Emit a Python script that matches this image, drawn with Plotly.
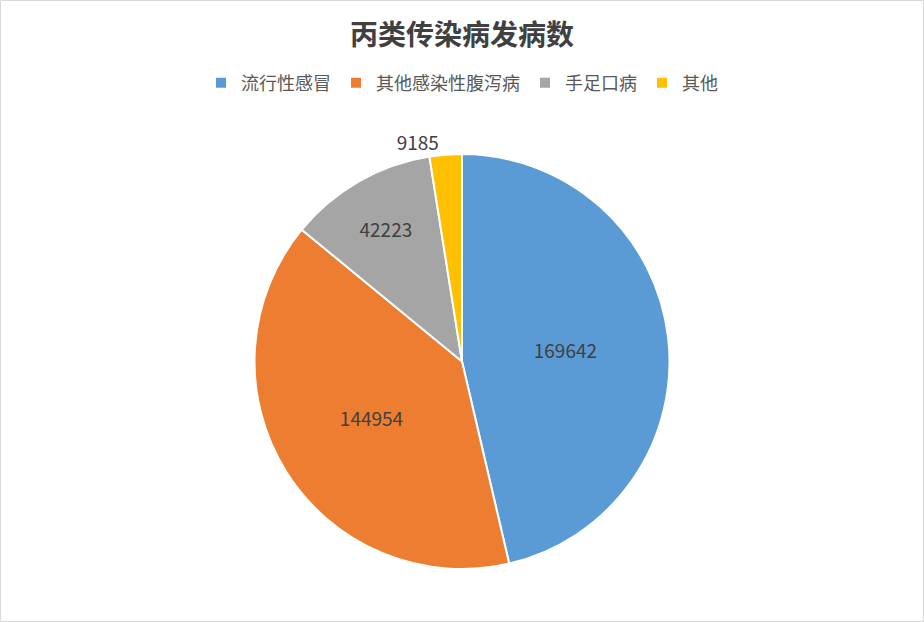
import plotly.graph_objects as go

# 丙类传染病发病数
labels = ['流行性感冒', '其他感染性腹泻病', '手足口病', '其他']
cases = [169642, 144954, 42223, 9185]
colors = ['#5B9BD5', '#ED7D31', '#A5A5A5', '#FFC000']

W, H = 924, 622
font_cn = 'Noto Sans CJK SC, Microsoft YaHei, sans-serif'

fig = go.Figure(go.Pie(
    labels=labels,
    values=cases,
    sort=False,
    direction='clockwise',
    rotation=0,
    marker=dict(colors=colors, line=dict(color='white', width=2)),
    texttemplate='%{value:.0f}',
    textposition=['inside', 'inside', 'inside', 'outside'],
    insidetextorientation='horizontal',
    textfont=dict(size=19, color='#404040', family=font_cn),
    domain=dict(x=[0, 1], y=[53 / H, 468 / H]),
    hoverinfo='label+value+percent',
))

fig.update_layout(
    width=W,
    height=H,
    margin=dict(l=0, r=0, t=0, b=0, autoexpand=False),
    paper_bgcolor='white',
    title=dict(
        text='<b>丙类传染病发病数</b>',
        x=0.5, xanchor='center',
        y=1 - 35 / H, yanchor='middle',
        font=dict(size=28, color='#404040', family=font_cn),
    ),
    legend=dict(
        orientation='h',
        x=0.5, xanchor='center',
        y=1 - 83 / H, yanchor='middle',
        font=dict(size=18, color='#595959', family=font_cn),
        itemwidth=30,
        traceorder='normal',
    ),
    shapes=[dict(
        type='rect', xref='paper', yref='paper',
        x0=0.5 / W, x1=1 - 0.5 / W, y0=0.5 / H, y1=1 - 0.5 / H,
        line=dict(color='#D9D9D9', width=1),
    )],
)

# drop the default page margin so the figure sits at the window corner
fig.write_html('out.html', config={'displayModeBar': False},
               post_script="document.body.style.margin='0';")
